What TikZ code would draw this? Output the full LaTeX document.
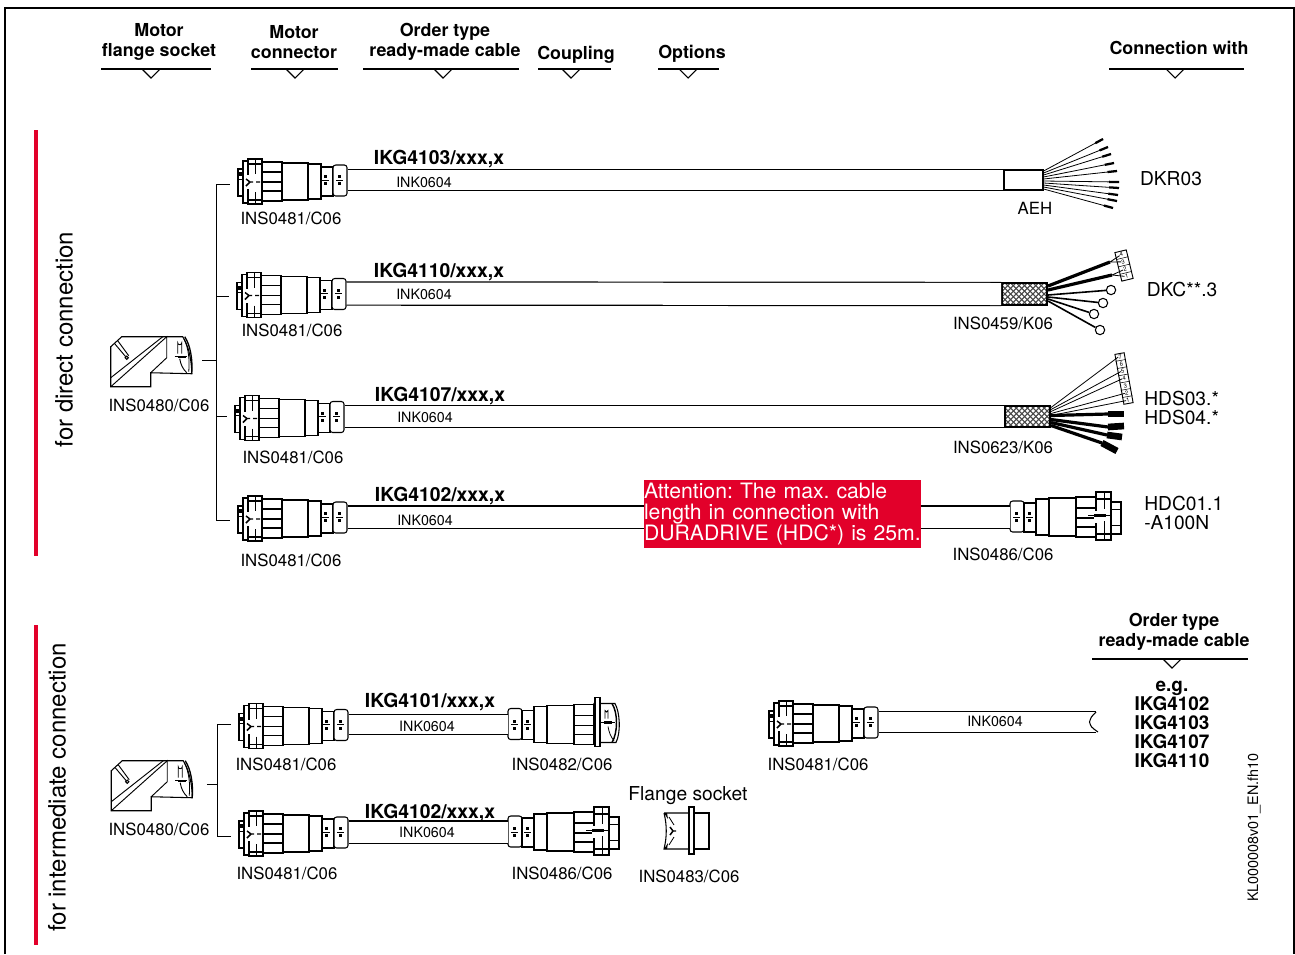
\documentclass[tikz,border=0pt]{standalone}
\usepackage{fontspec}
\setmainfont{TeX Gyre Heros}
\usepackage{xcolor}
\usetikzlibrary{calc}
\definecolor{signalred}{HTML}{E2002A}
\newcommand{\plugneck}{%
  \draw[part,rounded corners=2pt] (0,-16) rectangle (14,15);
  \draw[part] (14,-14) rectangle (26,15);
  \draw[part] (26,-18) rectangle (39,18);
  \draw[part] (39,-19) rectangle (66,19);
  \draw[part] (66,-20) rectangle (86,20);
  \foreach \nx in {5,18}{
    \fill (\nx,-5) rectangle +(3,3);
    \fill (\nx,2) rectangle +(3,3);
    \draw[line width=0.5pt] (\nx-2,0) -- +(7,0);
  }
  \foreach \ry in {-9,1,10}{\draw[rib] (66,\ry) -- (86,\ry);}
}
\tikzset{
  part/.style={draw=black,fill=white,line width=0.8pt},
  rib/.style={draw=black,line width=1.4pt},
  lbl/.style={font=\fontsize{12.6}{14}\selectfont,inner sep=0pt},
  lblbig/.style={font=\fontsize{14.4}{14.2}\selectfont,inner sep=0pt,align=left},
  lbltiny/.style={font=\fontsize{10.7}{12}\selectfont,inner sep=0pt},
  ordertext/.style={font=\fontsize{14.5}{14}\selectfont\bfseries,inner sep=0pt},
  headtext/.style={font=\fontsize{13.4}{15}\selectfont\bfseries,inner sep=0pt,align=center},
  sidetext/.style={font=\fontsize{18}{20}\selectfont,inner sep=0pt,rotate=90},
  headrule/.style={line width=1pt,draw=black},
  redbar/.style={draw=signalred,line width=3pt},
  busline/.style={line width=0.75pt,draw=black,shorten >=6pt},
  cable/.style={draw=black,line width=0.9pt,double=white,double distance=#1},
  cable/.default=15pt,
  plugbox/.style={inner sep=0pt,minimum width=81.75pt,minimum height=30pt,anchor=west},
  elbowbox/.style={inner sep=0pt,minimum width=61.5pt,minimum height=39pt},
  shield/.style={draw=black,line width=1.5pt,fill=black!72,inner sep=0pt,
                 minimum width=33.75pt,minimum height=16pt,
    path picture={
      \foreach \ci in {-4,...,4}{
        \foreach \cj in {-2,...,2}{
          \coordinate (meshdot) at ($(path picture bounding box.center)+(\ci*5.6,\cj*5.6)$);
          \fill[white] (meshdot) ++(-1.8,0) -- ++(1.8,-1.8) -- ++(1.8,1.8) -- ++(-1.8,1.8) -- cycle;
          \coordinate (meshdot) at ($(path picture bounding box.center)+(\ci*5.6+2.8,\cj*5.6+2.8)$);
          \fill[white] (meshdot) ++(-1.8,0) -- ++(1.8,-1.8) -- ++(1.8,1.8) -- ++(-1.8,1.8) -- cycle;
        }
      }
    }},
  pinblock/.style={draw=black,fill=white,line width=0.7pt,inner sep=0pt},
  pinno/.style={font=\fontsize{4.5}{5}\selectfont,inner sep=0pt},
  wire/.style={draw=black,line width=0.6pt},
  wirecap/.style={draw=black,line width=1.7pt},
  ringwire/.style={draw=black,line width=1.2pt},
  fatwire/.style={draw=black,line width=2.4pt},
  motorplug/.pic={
    \draw[part] (0,-11) rectangle (5,16);
    \fill (1,-8) rectangle (5,-4);
    \draw (0,-1) -- (5,-1);
    \draw[part] (5,-19) rectangle (10,23);
    \draw[part] (10,-21) rectangle (24,24);
    \draw[part] (24,-18) rectangle (44,21);
    \draw[part] (44,-17) rectangle (70,20);
    \draw[part] (70,-16) rectangle (83,19);
    \draw[part] (83,-13) rectangle (95,16);
    \draw[part,rounded corners=2pt] (95,-15) rectangle (109,16);
    \foreach \ry in {-8,2,11}{\draw[rib] (24,\ry) -- (44,\ry);}
    \draw[rib] (10,-16) -- (24,-16) (10,20) -- (24,20);
    \draw[line width=0.5pt] (17,-21) -- (17,-6) (17,12) -- (17,24);
    \fill[white] (6,-5) rectangle (20,9);
    \draw[line width=1.1pt] (8,-1) -- (12,2) -- (8,6) (12,2) -- (15,2) (18,2) -- (22,2);
    \foreach \nx in {86,100}{
      \fill (\nx,-5) rectangle +(3,3);
      \fill (\nx,2) rectangle +(3,3);
      \draw[line width=0.5pt] (\nx-2,0) -- +(7,0);
    }
  },
  couplerplug/.pic={
    \plugneck
    \draw[part] (86,-25) rectangle (101,23);
    \draw[part] (101,-15) rectangle (111,17);
    \draw[rib] (86,-18) -- (101,-18) (86,17) -- (101,17);
    \fill[white] (84,-6) rectangle (100,6);
    \draw[line width=0.5pt] (78,-2) -- (100,-2) (94,-25) -- (94,-8) (94,4) -- (94,23);
    \fill (84,-3.5) rectangle (96,-0.5);
    \draw (101,-8) -- (111,-8) (101,8) -- (111,8);
  },
  flangeplug/.pic={
    \plugneck
    \draw[part] (86,-21) .. controls (95,-21) .. (107,-21)
      .. controls (112,-12) and (113,8) .. (108,18) -- (86,18) -- cycle;
    \draw[line width=1.1pt] (104,-21) .. controls (110,-12) and (110,8) .. (104,18);
    \draw[part] (87,-27) rectangle (92,22);
    \draw[line width=0.6pt] (97,-6) -- (97,-14) arc (180:0:1.5) -- (100,-6);
    \draw[line width=0.5pt] (92,-2) -- (107,-2);
    \fill (96,-3.5) rectangle (104,-0.5);
    \draw[line width=0.6pt] (100,2) .. controls (101,8) and (103,13) .. (106,16);
  },
  flangesocket/.pic={
    \draw[part] (0,-18) -- (25,-18) -- (25,18) -- (0,18) .. controls (3,6) and (3,-6) .. (0,-18);
    \fill (0,-18) -- (3,-18) -- (4,-12) -- cycle;
    \fill (0,18) -- (3,18) -- (4,12) -- cycle;
    \draw[part] (30,-18) rectangle (45,18);
    \draw[part] (25,-24) rectangle (30,23);
    \draw[line width=1.1pt] (6,-4) -- (9,0) -- (6,4) (9,0) -- (12,0);
    \draw[line width=0.6pt] (5,-14) .. controls (8,-10) .. (10,-6)
      (5,14) .. controls (8,10) .. (10,6);
  },
  elbowplug/.pic={
    \draw[part] (0,11) -- (11,1) -- (72,1) .. controls (78,10) and (81,25) .. (81,38)
      -- (40,37) -- (40,51) -- (0,51) -- cycle;
    \draw[line width=0.7pt] (0,42) -- (52,1) (0,51) -- (56,1) -- (56,22) -- (40,37);
    \draw[line width=0.7pt] (4,8) -- (15,21) (7,5) -- (18,20);
    \draw[part] (16,22) circle (1.6);
    \draw[line width=1pt] (74,1) .. controls (80,10) and (82,25) .. (81,38);
    \draw[line width=0.6pt] (73,3) .. controls (78,12) and (79,25) .. (78,36);
    \draw[line width=0.6pt] (67,18) -- (67,7) arc (180:0:2) -- (71,18);
    \draw[line width=0.6pt] (64,21) -- (76,21);
    \fill (67,20) rectangle (75,22);
    \draw[line width=0.7pt] (69,23) .. controls (70,29) and (72,33) .. (76,37);
  },
}
\begin{document}
\begin{tikzpicture}[x=0.75pt,y=-0.75pt]
  \useasboundingbox (0,0) rectangle (1295,954);
  \draw[line width=2.2pt] (5,954) -- (5,8) -- (1294,8) -- (1294,954);

  % ---- Column headings ----
  \node[headtext] (headSocket) at (159,42) {Motor\\flange socket};
  \node[headtext] (headMotor) at (294,42) {Motor\\connector};
  \node[headtext] (headOrder) at (445,42) {Order type\\ready-made cable};
  \node[headtext] (headCoupling) at (576,55) {Coupling};
  \node[headtext] (headOptions) at (692,54) {Options};
  \node[headtext] (headConn) at (1179,48) {Connection with};
  \node[headtext] (headOrderB) at (1174,632) {Order type\\ready-made cable};
  \foreach \xa/\xb/\xm/\ym in {101/211/151/69,251/338/295/69,363/519/443/69,538/611/571/69,
                               658/719/688/69,1109/1244/1175/69,1092/1248/1172/659}{
    \draw[headrule] (\xa,\ym) -- (\xb,\ym);
    \draw[line width=0.8pt] (\xm-9,\ym) -- (\xm,\ym+9) -- (\xm+9,\ym);
  }

  % ---- Side bars ----
  \draw[redbar] (36,130) -- (36,556);
  \draw[redbar] (36,625) -- (36,945);
  \node[sidetext] (sideDirect) at (64,339.5) {for direct connection};
  \node[sidetext] (sideInter) at (57,787.5) {for intermediate connection};

  % ---- Direct connection, plugs ----
  \node[elbowbox] (elbowA) at (152,362) {};
  \pic at (elbowA.north west) {elbowplug};
  \node[lbl] (lblElbowA) at (159,405) {INS0480/C06};

  \node[plugbox] (plugA) at (238,180) {};
  \node[plugbox] (plugB) at (237,293.5) {};
  \node[plugbox] (plugC) at (235,416.5) {};
  \node[plugbox] (plugD) at (238,517) {};
  \pic at (plugA.west) {motorplug};
  \pic at (plugB.west) {motorplug};
  \pic at (plugC.west) {motorplug};
  \pic at (plugD.west) {motorplug};
  \node[lbl] (lblPlugA) at (291,218) {INS0481/C06};
  \node[lbl] (lblPlugB) at (292,330) {INS0481/C06};
  \node[lbl] (lblPlugC) at (293,457) {INS0481/C06};
  \node[lbl] (lblPlugD) at (291,560) {INS0481/C06};

  % ---- Bus, direct ----
  \coordinate (busA) at (216,360);
  \draw[busline] (busA) |- ([yshift=-3pt]plugA.west);
  \draw[busline] (busA) |- ([yshift=-2pt]plugB.west);
  \draw[busline] (busA) |- (plugC.west);
  \draw[busline] (busA) |- ([yshift=-2.25pt]plugD.west);
  \draw[line width=0.75pt] ([xshift=6.75pt,yshift=1.5pt]elbowA.east) -- (busA);

  % ---- Row A: AEH ----
  \node[draw=black,fill=white,line width=0.9pt,inner sep=0pt,
        minimum width=29.25pt,minimum height=15pt] (aeh) at (1023.5,180) {};
  \draw[cable=14.7pt] (plugA.east) -- (aeh.west);
  \node[lbl] (lblAeh) at (1035,208) {AEH};
  \node[ordertext] (orderA) at (439,159) {IKG4103/xxx,x};
  \node[lbltiny] (inkA) at (424,182) {INK0604};
  \node[lblbig] (devA) at (1171,179) {DKR03};
  \foreach \tx/\ty/\sy in {1103/139/-9,1108/147/-7,1111/154/-5,1114/163/-3,1117/171/-1,
                           1119/182/1,1119/188/3,1118/195/5,1117/201/7,1113/208/9}{
    \coordinate (wirestart) at ($(aeh.east)+(0,\sy)$);
    \coordinate (wiretip) at (\tx,\ty);
    \draw[wire] (wirestart) -- (wiretip);
    \draw[wirecap] ($(wirestart)!0.87!(wiretip)$) -- (wiretip);
  }

  % ---- Row B: shield, pins, rings ----
  \node[shield] (shieldB) at (1024.5,294) {};
  \draw[cable=16.5pt] (plugB.east) -- (shieldB.west);
  \node[lbl] (lblShieldB) at (1003,323) {INS0459/K06};
  \node[ordertext] (orderB) at (439,272) {IKG4110/xxx,x};
  \node[lbltiny] (inkB) at (424,294) {INK0604};
  \node[lblbig] (devB) at (1182,289) {DKC**.3};
  \node[pinblock,rotate=13.6,minimum width=8.75pt,minimum height=22pt] (blockB) at (1124,265.5) {};
  \foreach \pn/\pf in {4/0.125,3/0.375,2/0.625,1/0.875}{
    \node[pinno,rotate=13.6] (pinB\pn) at ($(blockB.north)!\pf!(blockB.south)$) {\pn};
  }
  \foreach \pf in {0.25,0.5,0.75}{
    \draw[line width=0.4pt] ($(blockB.north west)!\pf!(blockB.south west)$)
      -- ($(blockB.north east)!\pf!(blockB.south east)$);
  }
  \coordinate (fatB) at (1110,262);
  \coordinate (fatC) at (1112,275);
  \draw[fatwire] ([yshift=6pt]shieldB.east) -- (fatB);
  \draw[fatwire] ([yshift=3pt]shieldB.east) -- (fatC);
  \draw[wire] (fatB) -- (pinB3) (fatB) -- (pinB4);
  \draw[wire] (fatC) -- (pinB1) (fatC) -- (pinB2);
  \foreach \rn/\rx/\ry/\sy in {a/1111/290/1,b/1103/303/3,c/1094/314/5,d/1100/330/7}{
    \node[draw=black,fill=white,circle,line width=0.8pt,inner sep=0pt,minimum size=7pt] (ring\rn) at (\rx,\ry) {};
    \draw[ringwire] ($(shieldB.east)+(0,\sy)$) -- (ring\rn);
  }

  % ---- Row C: shield, pins, fat leads ----
  \node[shield] (shieldC) at (1027.5,416.5) {};
  \draw[cable=15.75pt] (plugC.east) -- (shieldC.west);
  \node[lbl] (lblShieldC) at (1003,447) {INS0623/K06};
  \node[ordertext] (orderC) at (440,396) {IKG4107/xxx,x};
  \node[lbltiny] (inkC) at (425,417) {INK0604};
  \node[lblbig,anchor=west] (devC) at (1144,408) {HDS03.*\\HDS04.*};
  \node[pinblock,rotate=10.2,minimum width=7pt,minimum height=38pt] (blockC) at (1124,378.5) {};
  \foreach \pn/\pf in {7/0.071,6/0.214,5/0.357,4/0.5,3/0.643,2/0.786,1/0.929}{
    \node[pinno,rotate=10.2] (pinC\pn) at ($(blockC.north)!\pf!(blockC.south)$) {\pn};
  }
  \foreach \pf in {0.143,0.286,0.429,0.571,0.714,0.857}{
    \draw[line width=0.4pt] ($(blockC.north west)!\pf!(blockC.south west)$)
      -- ($(blockC.north east)!\pf!(blockC.south east)$);
  }
  \foreach \ww/\sy in {7/-9,5/-7,4/-5,2/-3,1/-1}{
    \draw[wire] ($(shieldC.east)+(0,\sy)$) -- (pinC\ww.west);
  }
  \foreach \sy/\ax/\ay/\bx/\by in {-1/1108/414/1124/414,3/1108/427/1124/426,
                                   6/1107/435/1122/437,9/1102/443/1117/451}{
    \coordinate (leadstart) at ($(shieldC.east)+(0,\sy)$);
    \coordinate (leadmid) at (\ax,\ay);
    \coordinate (leadend) at (\bx,\by);
    \draw[fatwire] (leadstart) -- (leadmid);
    \draw[line width=5pt] (leadmid) -- (leadend);
  }

  % ---- Row D: coupler and note ----
  \node[plugbox,minimum width=83.25pt] (coupD) at (1010,517) {};
  \pic at (coupD.west) {couplerplug};
  \draw[cable=15.75pt] (plugD.east) -- (coupD.west);
  \node[lbl] (lblCoupD) at (1003,554) {INS0486/C06};
  \node[ordertext] (orderD) at (440,496) {IKG4102/xxx,x};
  \node[lbltiny] (inkD) at (425,520) {INK0604};
  \node[lblbig,anchor=west] (devD) at (1144,513) {HDC01.1\\-A100N};
  \node[fill=signalred,text=white,inner sep=0pt,text width=207.75pt,minimum height=51pt,
        align=left,font=\fontsize{15.9}{16.1}\selectfont\frenchspacing] (noteBox) at (782.5,514)
    {Attention: The max. cable\\length in connection with\\\mbox{DURADRIVE (HDC*) is 25m.}};

  % ---- Intermediate connection ----
  \node[elbowbox] (elbowB) at (152.5,786) {};
  \pic at (elbowB.north west) {elbowplug};
  \node[lbl] (lblElbowB) at (159,829) {INS0480/C06};

  \node[plugbox] (plugE) at (239,724.5) {};
  \node[plugbox] (plugF) at (239,832) {};
  \pic at (plugE.west) {motorplug};
  \pic at (plugF.west) {motorplug};
  \node[lbl] (lblPlugE) at (286,764) {INS0481/C06};
  \node[lbl] (lblPlugF) at (287,873) {INS0481/C06};

  \coordinate (busB) at (217,784);
  \draw[busline] (busB) |- (plugE.west);
  \draw[busline] (busB) |- ([yshift=-3pt]plugF.west);
  \draw[line width=0.75pt] ([xshift=9.75pt,yshift=1.5pt]elbowB.east) -- (busB);

  \node[plugbox,minimum width=84.75pt] (coupE) at (508,724.5) {};
  \node[plugbox,minimum width=83.25pt] (coupF) at (508,832) {};
  \pic at (coupE.west) {flangeplug};
  \pic at (coupF.west) {couplerplug};
  \draw[cable=14.6pt] (plugE.east) -- (coupE.west);
  \draw[cable=15.75pt] (plugF.east) -- (coupF.west);
  \node[lbl] (lblCoupE) at (562,764) {INS0482/C06};
  \node[lbl] (lblCoupF) at (562,873) {INS0486/C06};
  \node[ordertext] (orderE) at (430,702) {IKG4101/xxx,x};
  \node[ordertext] (orderF) at (430,813) {IKG4102/xxx,x};
  \node[lbltiny] (inkE) at (427,726) {INK0604};
  \node[lbltiny] (inkF) at (427,832) {INK0604};

  \node[plugbox,minimum width=33.75pt] (socketF) at (664,831) {};
  \pic at (socketF.west) {flangesocket};
  \node[lblbig] (lblFlange) at (688,796) {Flange socket};
  \node[lbl] (lblSocketF) at (689,876) {INS0483/C06};

  % ---- Loose cable end ----
  \node[plugbox] (plugG) at (769,722) {};
  \pic at (plugG.west) {motorplug};
  \coordinate (cutG) at (1096,722);
  \draw[cable=15pt] (plugG.east) -- (cutG);
  \fill[white] (1090,714) -- (1100,714) -- (1100,730) -- (1091,730)
    .. controls (1087,725) .. (1090,714);
  \draw[line width=0.8pt] (1096,712) .. controls (1091,717) .. (1089.5,722)
    .. controls (1091,727) .. (1098,732);
  \node[lbl] (lblPlugG) at (818,764) {INS0481/C06};
  \node[lbltiny] (inkG) at (995,721) {INK0604};
  \node[ordertext,align=center,font=\fontsize{14.2}{14.3}\selectfont\bfseries] (orderList) at (1172,724.5)
    {e.g.\\IKG4102\\IKG4103\\IKG4107\\IKG4110};
  \node[font=\fontsize{10.8}{11}\selectfont,inner sep=0pt,rotate=90] (fileTag) at (1254,827.5) {KL000008v01\_EN.fh10};
\end{tikzpicture}
\end{document}
